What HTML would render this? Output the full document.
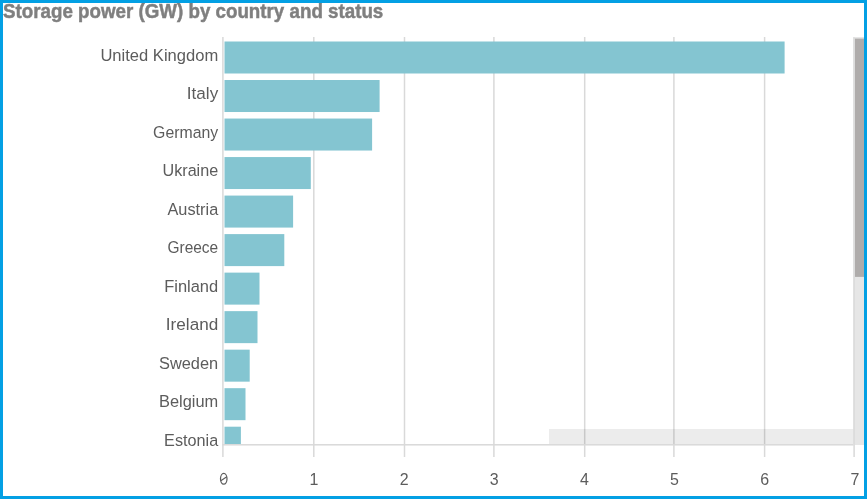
<!DOCTYPE html>
<html><head><meta charset="utf-8"><style>
html,body{margin:0;padding:0;width:867px;height:499px;overflow:hidden;background:#fff}
svg{display:block;position:absolute;left:0;top:0;will-change:transform}
.lab{font-family:"Liberation Sans",sans-serif;font-size:17.4px;fill:#5c5c5c}
.xl{font-family:"Liberation Sans",sans-serif;font-size:17px;fill:#5c5c5c}
.mono{font-family:"Liberation Mono",monospace;font-size:16.5px}
.title{font-family:"Liberation Sans",sans-serif;font-weight:bold;font-size:21px;fill:#7f7f7f;stroke:#7f7f7f;stroke-width:0.5}
.frame{position:absolute;left:0;top:0;width:867px;height:499px;box-sizing:border-box;border:3px solid #03a0e4}
</style></head><body>
<svg width="867" height="499" viewBox="0 0 867 499">
<rect x="313.05" y="37" width="1.5" height="420" fill="#d9d9d9"/>
<rect x="403.75" y="37" width="1.5" height="420" fill="#d9d9d9"/>
<rect x="493.15" y="37" width="1.5" height="420" fill="#d9d9d9"/>
<rect x="583.95" y="37" width="1.5" height="420" fill="#d9d9d9"/>
<rect x="673.15" y="37" width="1.5" height="420" fill="#d9d9d9"/>
<rect x="763.85" y="37" width="1.5" height="420" fill="#d9d9d9"/>
<rect x="853.35" y="37" width="1.5" height="420" fill="#d9d9d9"/>
<rect x="222.15" y="37" width="1.5" height="420" fill="#d9d9d9"/>
<rect x="224.5" y="41.50" width="560.10" height="32.00" fill="#84c5d1"/>
<text x="218.2" y="60.70" text-anchor="end" textLength="117.77" lengthAdjust="spacingAndGlyphs" class="lab">United Kingdom</text>
<rect x="224.5" y="80.02" width="155.10" height="32.00" fill="#84c5d1"/>
<text x="218.2" y="99.22" text-anchor="end" textLength="31.4" lengthAdjust="spacingAndGlyphs" class="lab">Italy</text>
<rect x="224.5" y="118.54" width="147.60" height="32.00" fill="#84c5d1"/>
<text x="218.2" y="137.74" text-anchor="end" textLength="65.1" lengthAdjust="spacingAndGlyphs" class="lab">Germany</text>
<rect x="224.5" y="157.06" width="86.30" height="32.00" fill="#84c5d1"/>
<text x="218.2" y="176.26" text-anchor="end" textLength="55.7" lengthAdjust="spacingAndGlyphs" class="lab">Ukraine</text>
<rect x="224.5" y="195.58" width="68.60" height="32.00" fill="#84c5d1"/>
<text x="218.2" y="214.78" text-anchor="end" textLength="50.74" lengthAdjust="spacingAndGlyphs" class="lab">Austria</text>
<rect x="224.5" y="234.10" width="59.80" height="32.00" fill="#84c5d1"/>
<text x="218.2" y="253.30" text-anchor="end" textLength="50.73" lengthAdjust="spacingAndGlyphs" class="lab">Greece</text>
<rect x="224.5" y="272.62" width="35.00" height="32.00" fill="#84c5d1"/>
<text x="218.2" y="291.82" text-anchor="end" textLength="54.02" lengthAdjust="spacingAndGlyphs" class="lab">Finland</text>
<rect x="224.5" y="311.14" width="33.00" height="32.00" fill="#84c5d1"/>
<text x="218.2" y="330.34" text-anchor="end" textLength="52.34" lengthAdjust="spacingAndGlyphs" class="lab">Ireland</text>
<rect x="224.5" y="349.66" width="25.20" height="32.00" fill="#84c5d1"/>
<text x="218.2" y="368.86" text-anchor="end" textLength="59.24" lengthAdjust="spacingAndGlyphs" class="lab">Sweden</text>
<rect x="224.5" y="388.18" width="21.00" height="32.00" fill="#84c5d1"/>
<text x="218.2" y="407.38" text-anchor="end" textLength="59.23" lengthAdjust="spacingAndGlyphs" class="lab">Belgium</text>
<rect x="224.5" y="426.70" width="16.40" height="17.30" fill="#84c5d1"/>
<text x="218.2" y="445.90" text-anchor="end" textLength="54.11" lengthAdjust="spacingAndGlyphs" class="lab">Estonia</text>
<rect x="549" y="429" width="304.6" height="15.5" fill="#000" fill-opacity="0.075"/>
<rect x="222.15" y="444.05" width="631.5" height="1.5" fill="#d9d9d9"/>
<rect x="853.5" y="37" width="10.5" height="408" fill="#e6e6e6"/>
<rect x="853.5" y="37.5" width="1.5" height="407.5" fill="#dcdcdc"/>
<rect x="855" y="38.6" width="9" height="238.3" fill="#afacab"/>
<ellipse cx="223.75" cy="478.8" rx="3.25" ry="5.35" fill="none" stroke="#5c5c5c" stroke-width="1.25"/>
<line x1="220.8" y1="480.7" x2="226.8" y2="476.8" stroke="#5c5c5c" stroke-width="1.1"/>
<text x="314.05" y="485" text-anchor="middle" textLength="8.9" lengthAdjust="spacingAndGlyphs" class="xl">1</text>
<text x="404.18" y="485" text-anchor="middle" textLength="8.9" lengthAdjust="spacingAndGlyphs" class="xl">2</text>
<text x="494.31" y="485" text-anchor="middle" textLength="8.9" lengthAdjust="spacingAndGlyphs" class="xl">3</text>
<text x="584.44" y="485" text-anchor="middle" textLength="8.9" lengthAdjust="spacingAndGlyphs" class="xl">4</text>
<text x="674.57" y="485" text-anchor="middle" textLength="8.9" lengthAdjust="spacingAndGlyphs" class="xl">5</text>
<text x="764.70" y="485" text-anchor="middle" textLength="8.9" lengthAdjust="spacingAndGlyphs" class="xl">6</text>
<text x="854.83" y="485" text-anchor="middle" textLength="8.9" lengthAdjust="spacingAndGlyphs" class="xl">7</text>
<text x="3" y="17.6" textLength="380.3" lengthAdjust="spacingAndGlyphs" class="title">Storage power (GW) by country and status</text>
</svg>
<div class="frame"></div>
</body></html>
